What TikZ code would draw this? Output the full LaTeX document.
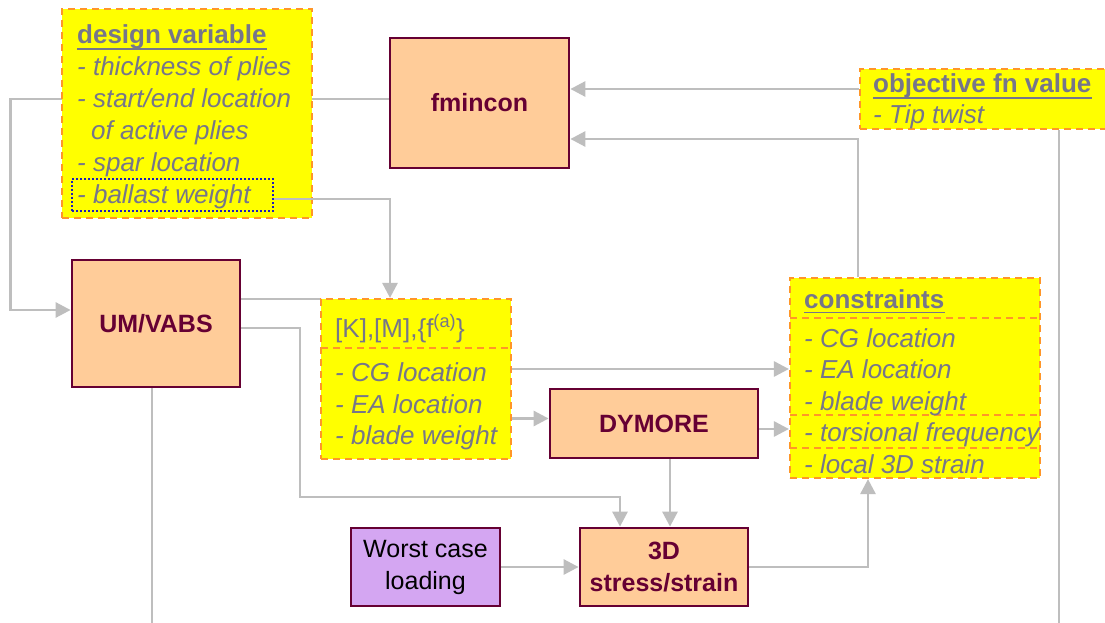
\documentclass[tikz,border=0pt]{standalone}
\usepackage{fontspec}
\setmainfont{Liberation Sans}
\usetikzlibrary{arrows.meta,backgrounds}
\definecolor{maroon}{RGB}{102,0,51}
\definecolor{peach}{RGB}{255,204,153}
\definecolor{lilac}{RGB}{212,166,242}
\definecolor{ylw}{RGB}{255,255,0}
\definecolor{dorange}{RGB}{255,150,40}
\definecolor{tgray}{RGB}{118,118,138}
\definecolor{lgray}{RGB}{190,190,190}
\definecolor{dblue}{RGB}{30,30,190}
\begin{document}
\begin{tikzpicture}[x=1pt,y=-1pt,
  conn/.style={draw=lgray,line width=2.8pt},
  arr/.style={conn,-{Triangle[length=15pt,width=15pt]}},
  proc/.style={draw=maroon,line width=2.8pt,fill=peach,inner sep=0pt,text=maroon,
    font=\fontsize{25}{32}\selectfont\bfseries,align=center},
  ybox/.style={draw=dorange,line width=2.2pt,dash pattern=on 7pt off 5pt,fill=ylw,inner sep=0pt},
  ydiv/.style={draw=dorange,line width=2.2pt,dash pattern=on 7pt off 5pt},
  ytxt/.style={anchor=base west,inner sep=0pt,text=tgray,font=\fontsize{26}{32}\selectfont\itshape},
  yhd/.style={anchor=base west,inner sep=0pt,text=tgray,font=\fontsize{26}{32}\selectfont\bfseries},
  uline/.style={draw=tgray,line width=1.6pt}
]
\useasboundingbox (0,0) rectangle (1105,623);

% process boxes
\node[proc,minimum width=179pt,minimum height=130pt] (fmincon) at (479.5,103) {fmincon};
\node[proc,minimum width=168pt,minimum height=127pt] (um) at (156,323.5) {UM/VABS};
\node[proc,minimum width=208pt,minimum height=69pt] (dymore) at (654,423.5) {DYMORE};
\node[proc,minimum width=168pt,minimum height=78pt] (stress) at (664,567) {3D\\stress/strain};
\node[proc,fill=lilac,text=black,font=\fontsize{25}{32}\selectfont,minimum width=149pt,minimum height=78pt] (worst) at (425.5,567) {Worst case\\loading};

% design variable box
\node[ybox,minimum width=250pt,minimum height=209pt] (design) at (187,113.5) {};
\node[draw=dblue,line width=2pt,dash pattern=on 2pt off 2pt,minimum width=201pt,minimum height=32pt,inner sep=0pt] (ballast) at (172.5,195) {};
\node[yhd] (dvh) at (77,43.5) {design variable};
\draw[uline] ([yshift=-5.5pt]dvh.base west) -- ([yshift=-5.5pt]dvh.base east);
\node[ytxt] (dv1) at (77,75.5) {- thickness of plies};
\node[ytxt] (dv2) at (77,107.5) {- start/end location};
\node[ytxt] (dv3) at (91,139.5) {of active plies};
\node[ytxt] (dv4) at (77,171.5) {- spar location};
\node[ytxt] (dv5) at (77,203.5) {- ballast weight};

% objective box
\node[ybox,minimum width=260pt,minimum height=60pt] (obj) at (990,99) {};
\node[yhd] (objh) at (873,93) {objective fn value};
\draw[uline] ([yshift=-5pt]objh.base west) -- ([yshift=-5pt]objh.base east);
\node[ytxt] (obj1) at (873,124) {- Tip twist};

% [K] box
\node[ybox,minimum width=190pt,minimum height=160pt] (K) at (416,379) {};
\draw[ydiv] (321,348) -- (511,348);
\node[ytxt,font=\fontsize{26}{32}\selectfont] (kh) at (335,337) {[K],[M],\{f\textsuperscript{(a)}\}};
\node[ytxt] (k1) at (335,381) {- CG location};
\node[ytxt] (k2) at (335,413) {- EA location};
\node[ytxt] (k3) at (335,444) {- blade weight};

% constraints box
\node[ybox,minimum width=250pt,minimum height=200pt] (cons) at (915,378) {};
\draw[ydiv] (790,318) -- (1040,318);
\draw[ydiv] (790,415) -- (1040,415);
\draw[ydiv] (790,448) -- (1040,448);
\node[yhd] (ch) at (804,308) {constraints};
\draw[uline] ([yshift=-4.5pt]ch.base west) -- ([yshift=-4.5pt]ch.base east);
\node[ytxt] (c1t) at (804,347) {- CG location};
\node[ytxt] (c2t) at (804,378) {- EA location};
\node[ytxt] (c3t) at (804,410) {- blade weight};
\node[ytxt] (c4t) at (804,441) {- torsional frequency};
\node[ytxt] (c5t) at (804,473) {- local 3D strain};

% connector drawn above the design box
\draw[arr] ([yshift=-4pt]ballast.east) -| ([xshift=-26pt]K.north);

\begin{pgfonlayer}{background}
\fill[white] (0,0) rectangle (1105,623);
\coordinate (c1) at (300,497);
\draw[arr] ([yshift=4pt]fmincon.west) -| ([xshift=-60pt,yshift=13.5pt]um.west) -- ([yshift=13.5pt]um.west);
\draw[arr] ([yshift=10pt]obj.west) -- ([yshift=14pt]fmincon.east);
\draw[arr] ([xshift=-57pt]cons.north) |- ([yshift=-36pt]fmincon.east);
\draw[conn] ([yshift=24.5pt]um.east) -- ([yshift=24.5pt]um.east -| K.west);
\draw[arr] ([yshift=-4.5pt]um.east) -| (c1) -| ([xshift=-44pt]stress.north);
\draw[arr] ([yshift=10pt]K.east) -- ([yshift=9pt]cons.west);
\draw[arr] ([yshift=-39.5pt]K.east) -- ([yshift=5pt]dymore.west);
\draw[arr] ([yshift=-5.5pt]dymore.east) -- ([yshift=-51pt]cons.west);
\draw[arr] ([xshift=16pt]dymore.south) -- ([xshift=6pt]stress.north);
\draw[arr] (worst) -- (stress);
\draw[arr] (stress.east) -| ([xshift=-47pt]cons.south);
\draw[conn] ([xshift=69pt]obj.south) -- ++(0,520);
\draw[conn] ([xshift=-4pt]um.south) -- ++(0,260);
\end{pgfonlayer}
\end{tikzpicture}
\end{document}
